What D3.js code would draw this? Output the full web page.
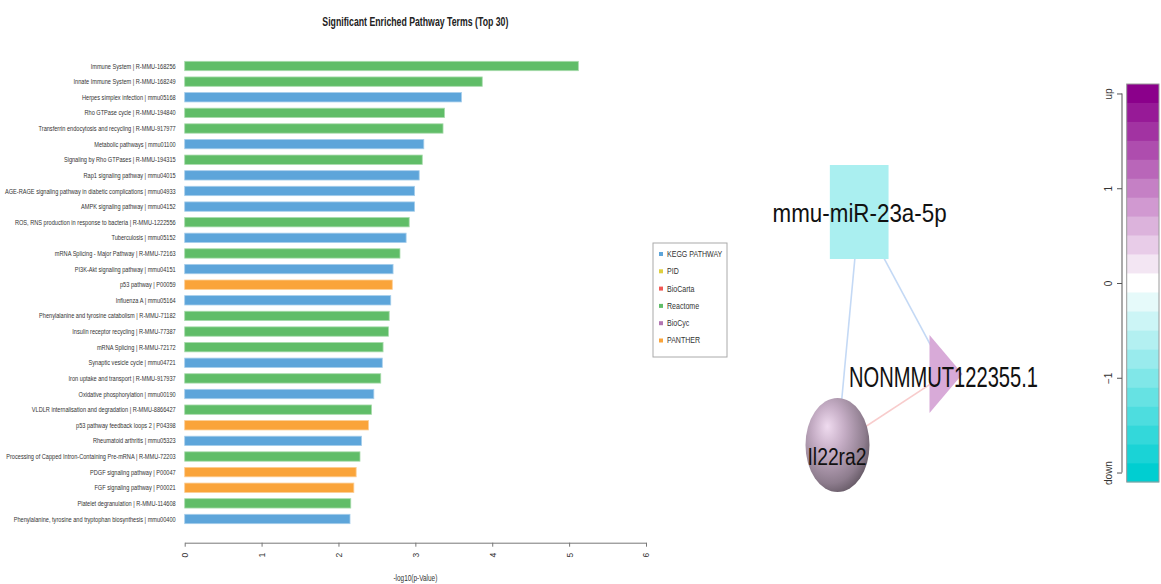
<!DOCTYPE html>
<html>
<head>
<meta charset="utf-8">
<script src="https://cdn.jsdelivr.net/npm/d3@7"></script>
<style>
  html, body { margin: 0; padding: 0; background: #fff; }
  svg { display: block; }
  .plain, .narrow { font-family: 'Liberation Sans', Arial, sans-serif; }
</style>
</head>
<body>
<svg id="chart" width="1161" height="584"></svg>
<script>
// pathway enrichment (top 30), top to bottom
const pathwayTerms = [
  'Immune System | R-MMU-168256',
  'Innate Immune System | R-MMU-168249',
  'Herpes simplex infection | mmu05168',
  'Rho GTPase cycle | R-MMU-194840',
  'Transferrin endocytosis and recycling | R-MMU-917977',
  'Metabolic pathways | mmu01100',
  'Signaling by Rho GTPases | R-MMU-194315',
  'Rap1 signaling pathway | mmu04015',
  'AGE-RAGE signaling pathway in diabetic complications | mmu04933',
  'AMPK signaling pathway | mmu04152',
  'ROS, RNS production in response to bacteria | R-MMU-1222556',
  'Tuberculosis | mmu05152',
  'mRNA Splicing - Major Pathway | R-MMU-72163',
  'PI3K-Akt signaling pathway | mmu04151',
  'p53 pathway | P00059',
  'Influenza A | mmu05164',
  'Phenylalanine and tyrosine catabolism | R-MMU-71182',
  'Insulin receptor recycling | R-MMU-77387',
  'mRNA Splicing | R-MMU-72172',
  'Synaptic vesicle cycle | mmu04721',
  'Iron uptake and transport | R-MMU-917937',
  'Oxidative phosphorylation | mmu00190',
  'VLDLR internalisation and degradation | R-MMU-8866427',
  'p53 pathway feedback loops 2 | P04398',
  'Rheumatoid arthritis | mmu05323',
  'Processing of Capped Intron-Containing Pre-mRNA | R-MMU-72203',
  'PDGF signaling pathway | P00047',
  'FGF signaling pathway | P00021',
  'Platelet degranulation  | R-MMU-114608',
  'Phenylalanine, tyrosine and tryptophan biosynthesis | mmu00400'
];
const pathwaySources = [
  'Reactome', 'Reactome', 'KEGG PATHWAY', 'Reactome', 'Reactome',
  'KEGG PATHWAY', 'Reactome', 'KEGG PATHWAY', 'KEGG PATHWAY', 'KEGG PATHWAY',
  'Reactome', 'KEGG PATHWAY', 'Reactome', 'KEGG PATHWAY', 'PANTHER',
  'KEGG PATHWAY', 'Reactome', 'Reactome', 'Reactome', 'KEGG PATHWAY',
  'Reactome', 'KEGG PATHWAY', 'Reactome', 'PANTHER', 'KEGG PATHWAY',
  'Reactome', 'PANTHER', 'PANTHER', 'Reactome', 'KEGG PATHWAY'
];
const pathwayScores = [
  5.12, 3.87, 3.60, 3.38, 3.36, 3.11, 3.09, 3.05, 2.99, 2.99,
  2.92, 2.88, 2.80, 2.71, 2.70, 2.68, 2.66, 2.65, 2.58, 2.57,
  2.55, 2.46, 2.43, 2.39, 2.30, 2.28, 2.23, 2.20, 2.16, 2.15
];
const sourceNames = ['KEGG PATHWAY', 'PID', 'BioCarta', 'Reactome', 'BioCyc', 'PANTHER'];
const sourceColors = ['#5DA5DA', '#DECF3F', '#F15854', '#60BD68', '#B276B2', '#FAA43A'];
const scoreTicks = [0, 1, 2, 3, 4, 5, 6];

// network (layout coordinates in [-1, 1], value = regulation)
const netNames = ['mmu-miR-23a-5p', 'NONMMUT122355.1', 'Il22ra2'];
const netKinds = ['miRNA', 'lncRNA', 'mRNA'];
const netLayoutX = [-0.6, 1, -1];
const netLayoutY = [-1, 0.39, 1];
const netValues = [-0.67, 0.67, 0.4];
const netEdges = [[0, 2, 'miRNA-mRNA'], [0, 1, 'miRNA-lncRNA'], [2, 1, 'lncRNA-mRNA']];

// colour key
const keyBands = [2, 1.8, 1.6, 1.4, 1.2, 1, 0.8, 0.6, 0.4, 0.2, 0,
  -0.2, -0.4, -0.6, -0.8, -1, -1.2, -1.4, -1.6, -1.8, -2];
const keyTicks = [2, 1, 0, -1, -2];
const keyTickLabels = ['up', '1', '0', '\u22121', 'down'];

const svg = d3.select('#chart');

// the R device squeezed the left panel's text horizontally
const squeeze = (x, y, sx) => `translate(${x},${y}) scale(${sx},1)`;

/**
 * Bar chart of enriched pathways
 */
const drawBars = () => {
  const cs = {
    x: { range: [184.7, 646], axisY: 542.7 },
    y: { range: [58.2, 526.8] },
  };
  cs.x.scale = d3.scaleLinear().domain([0, 6]).range(cs.x.range);
  cs.y.scale = d3.scaleBand().domain(pathwayTerms).range(cs.y.range)
    .paddingInner(0.4).paddingOuter(0.2);
  const color = d3.scaleOrdinal().domain(sourceNames).range(sourceColors);

  const g = svg.append('g').attr('class', 'bars');
  g.selectAll('rect.bar')
    .data(pathwayTerms.map((t, i) => ({ term: t, source: pathwaySources[i], score: pathwayScores[i] })))
    .enter().append('rect')
    .attr('class', 'bar')
    .attr('x', cs.x.scale(0))
    .attr('y', d => cs.y.scale(d.term))
    .attr('width', d => cs.x.scale(d.score) - cs.x.scale(0))
    .attr('height', cs.y.scale.bandwidth())
    .attr('fill', d => color(d.source))
    .attr('stroke', d => d3.interpolateRgb(color(d.source), '#fff')(0.45))
    .attr('stroke-width', 0.8);

  g.selectAll('text.term')
    .data(pathwayTerms)
    .enter().append('text')
    .attr('class', 'term narrow')
    .attr('transform', d => squeeze(cs.x.scale(0) - 9, cs.y.scale(d) + cs.y.scale.bandwidth() / 2, 0.77))
    .attr('dy', '0.35em')
    .attr('text-anchor', 'end')
    .attr('font-size', 7.3)
    .attr('fill', '#333')
    .text(d => d);

  const axis = d3.axisBottom(cs.x.scale).tickValues(scoreTicks).tickSize(4).tickSizeOuter(0).tickFormat(d3.format('d'));
  const ax = g.append('g').attr('transform', `translate(0,${cs.x.axisY})`).call(axis);
  ax.select('.domain').attr('stroke', '#777');
  ax.selectAll('.tick line').attr('stroke', '#777');
  ax.selectAll('.tick text')
    .attr('class', 'narrow')
    .attr('font-size', 8.5)
    .attr('fill', '#333')
    .attr('transform', 'rotate(-90)')
    .attr('x', -10)
    .attr('y', 0)
    .attr('dy', '0.35em')
    .attr('text-anchor', 'end');

  g.append('text').attr('class', 'narrow')
    .attr('transform', squeeze(d3.mean(cs.x.range), 581, 0.76))
    .attr('text-anchor', 'middle').attr('font-size', 8.5).attr('fill', '#333')
    .text('-log10(p-Value)');

  g.append('text').attr('class', 'narrow')
    .attr('x', d3.mean(cs.x.range)).attr('y', 26)
    .attr('text-anchor', 'middle').attr('font-size', 12).attr('font-weight', 'bold')
    .attr('textLength', 186).attr('lengthAdjust', 'spacingAndGlyphs')
    .attr('fill', '#222')
    .text('Significant Enriched Pathway Terms (Top 30)');

  // legend
  const lg = svg.append('g').attr('transform', 'translate(653,243)');
  lg.append('rect').attr('width', 74).attr('height', 114)
    .attr('fill', '#fff').attr('stroke', '#aaa').attr('stroke-width', 1);
  const item = lg.selectAll('g.item').data(sourceNames).enter().append('g')
    .attr('class', 'item')
    .attr('transform', (d, i) => `translate(6,${11 + i * 17.3})`);
  item.append('rect').attr('x', 0).attr('y', -2).attr('width', 4).attr('height', 4)
    .attr('fill', d => color(d));
  item.append('text').attr('class', 'narrow')
    .attr('transform', squeeze(8, 0, 0.85))
    .attr('dy', '0.35em').attr('font-size', 8.3).attr('fill', '#333')
    .text(d => d);
};

/**
 * Colour key for regulation values
 */
const keyColor = (v) => (v >= 0
  ? d3.interpolateRgb('#ffffff', '#8B008B')(Math.min(v, 2) / 2)
  : d3.interpolateRgb('#ffffff', '#00CED1')(Math.min(-v, 2) / 2));

const drawKey = () => {
  const y = d3.scaleLinear().domain([2.1, -2.1]).range([84, 482]);
  const x0 = 1126.7;
  const w = 32.3;
  const g = svg.append('g').attr('class', 'key');
  g.selectAll('rect.band').data(keyBands).enter().append('rect')
    .attr('class', 'band')
    .attr('x', x0)
    .attr('y', d => y(d + 0.1))
    .attr('width', w)
    .attr('height', y(0) - y(0.2) + 0.3)
    .attr('fill', d => keyColor(d));
  g.append('rect').attr('x', x0).attr('y', y(2.1)).attr('width', w).attr('height', y(-2.1) - y(2.1))
    .attr('fill', 'none').attr('stroke', '#9a9a9a').attr('stroke-width', 1);

  const axis = d3.axisLeft(y).tickValues(keyTicks).tickSize(5)
    .tickFormat((d, i) => keyTickLabels[i]);
  const ax = g.append('g').attr('transform', 'translate(1122,0)').call(axis);
  ax.select('.domain').remove();
  ax.append('line').attr('x1', 0).attr('x2', 0).attr('y1', y(2)).attr('y2', y(-2)).attr('stroke', '#555');
  ax.selectAll('.tick line').attr('stroke', '#555');
  ax.selectAll('.tick text')
    .attr('class', 'plain')
    .attr('font-size', 10)
    .attr('fill', '#333')
    .attr('transform', 'rotate(-90)')
    .attr('x', 0)
    .attr('y', -10)
    .attr('dy', '0')
    .attr('text-anchor', 'middle');
};

/**
 * miRNA / lncRNA / mRNA network
 */
const drawNetwork = () => {
  const nx = d3.scaleLinear().domain([-1, 1]).range([837.5, 946]);
  const ny = d3.scaleLinear().domain([-1, 1]).range([212, 445]);
  const kindStyle = {
    miRNA: { w: 58.7, h: 94, label: { dx: 0.4, dy: 9.5, size: 25, len: 174 } },
    lncRNA: { w: 33, h: 78, label: { dx: -2.5, dy: 13.3, size: 30, len: 189 } },
    mRNA: { w: 64, h: 94, label: { dx: -0.5, dy: 20, size: 23, len: 59 } },
  };
  const edgeColor = { 'miRNA-mRNA': '#c4d9f5', 'miRNA-lncRNA': '#c4d9f5', 'lncRNA-mRNA': '#f8cccc' };

  const nodes = netNames.map((n, i) => ({
    name: n, kind: netKinds[i], value: netValues[i], x: nx(netLayoutX[i]), y: ny(netLayoutY[i]),
  }));

  const g = svg.append('g').attr('class', 'network');
  g.selectAll('line.edge').data(netEdges).enter().append('line')
    .attr('class', 'edge')
    .attr('x1', d => nodes[d[0]].x).attr('y1', d => nodes[d[0]].y)
    .attr('x2', d => nodes[d[1]].x).attr('y2', d => nodes[d[1]].y)
    .attr('stroke', d => edgeColor[d[2]])
    .attr('stroke-width', 1.6);

  const defs = svg.append('defs');
  nodes.forEach((n, i) => {
    const s = kindStyle[n.kind];
    const fill = keyColor(n.value);
    if (n.kind === 'miRNA') {
      g.append('rect').attr('x', n.x - s.w / 2).attr('y', n.y - s.h / 2)
        .attr('width', s.w).attr('height', s.h).attr('fill', fill);
    } else if (n.kind === 'lncRNA') {
      const tri = d3.path();
      tri.moveTo(n.x - s.w / 2, n.y - s.h / 2);
      tri.lineTo(n.x + s.w / 2, n.y);
      tri.lineTo(n.x - s.w / 2, n.y + s.h / 2);
      tri.closePath();
      g.append('path').attr('d', tri.toString()).attr('fill', fill);
    } else {
      const base = d3.color(fill);
      const grad = defs.append('radialGradient').attr('id', `sphere${i}`)
        .attr('cx', '0.4').attr('cy', '0.38').attr('r', '0.7')
        .attr('fx', '0.34').attr('fy', '0.3');
      grad.append('stop').attr('offset', '0%').attr('stop-color', d3.interpolateRgb(base, '#fff')(0.3));
      grad.append('stop').attr('offset', '35%').attr('stop-color', base.darker(0.45));
      grad.append('stop').attr('offset', '78%').attr('stop-color', base.darker(1.4));
      grad.append('stop').attr('offset', '100%').attr('stop-color', base.darker(2.6));
      g.append('ellipse').attr('cx', n.x).attr('cy', n.y).attr('rx', s.w / 2).attr('ry', s.h / 2)
        .attr('fill', `url(#sphere${i})`);
    }
  });

  g.selectAll('text.nlabel').data(nodes).enter().append('text')
    .attr('class', 'nlabel plain')
    .attr('x', d => d.x + kindStyle[d.kind].label.dx)
    .attr('y', d => d.y + kindStyle[d.kind].label.dy)
    .attr('text-anchor', 'middle')
    .attr('font-size', d => kindStyle[d.kind].label.size)
    .attr('textLength', d => kindStyle[d.kind].label.len)
    .attr('lengthAdjust', 'spacingAndGlyphs')
    .attr('fill', '#111')
    .text(d => d.name);
};

drawBars();
drawNetwork();
drawKey();
</script>
</body>
</html>
